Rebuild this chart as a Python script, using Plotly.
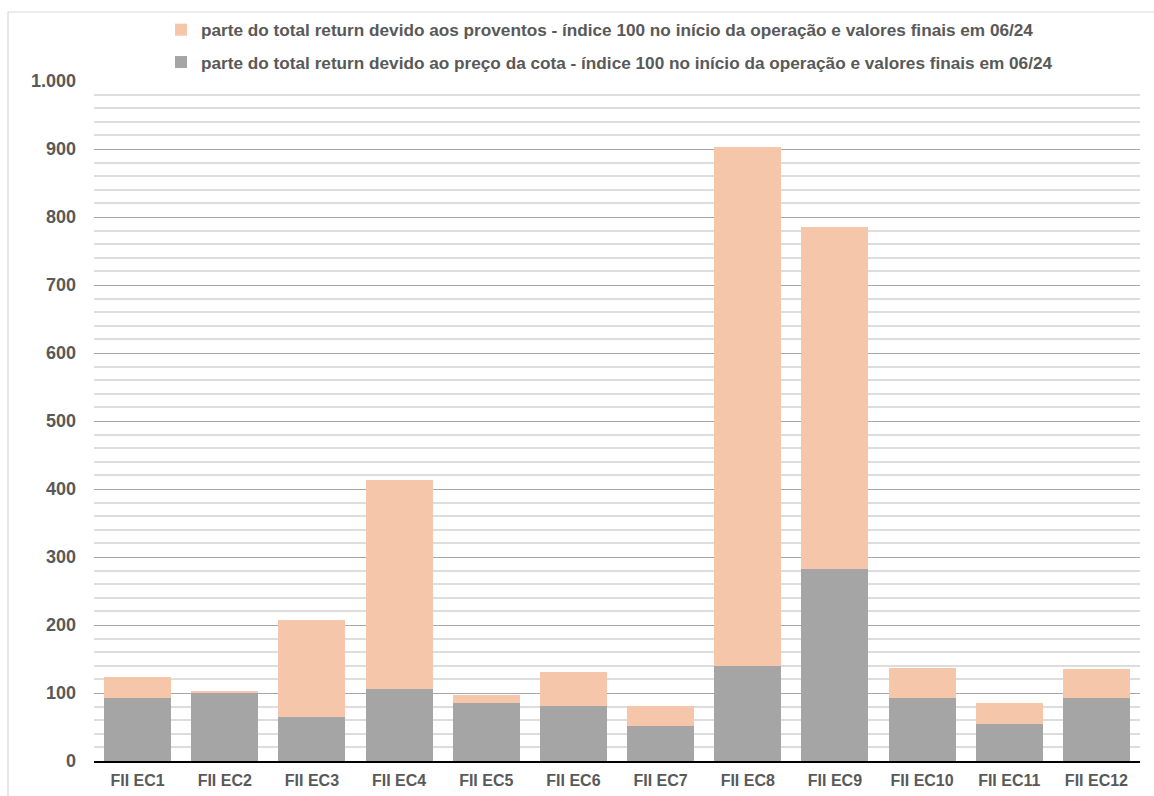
import plotly.graph_objects as go

# Fund names on the category axis
fundos = ["FII EC1", "FII EC2", "FII EC3", "FII EC4", "FII EC5", "FII EC6",
          "FII EC7", "FII EC8", "FII EC9", "FII EC10", "FII EC11", "FII EC12"]

# Part of total return due to quota price (index 100 at start)
parte_preco = [93, 101, 65, 106, 85, 81, 52, 140, 282, 93, 55, 93]

# Part of total return due to distributions
parte_proventos = [30, 1, 142, 307, 12, 50, 29, 763, 503, 44, 30, 42]

nome_preco = ("parte do total return devido ao preço da cota - índice 100 no início "
              "da operação e valores finais em 06/24")
nome_proventos = ("parte do total return devido aos proventos - índice 100 no início "
                  "da operação e valores finais em 06/24")

cinza = "#A5A5A5"
salmao = "#F5C6AA"
texto = "#595959"
fonte = "Liberation Sans, Arial, sans-serif"

# plot area in pixels: x 94..1140, y 81..761
ML, MR, MT, MB = 94, 14, 81, 35
W, H = 1154, 796
pw, ph = W - ML - MR, H - MT - MB

fig = go.Figure()
fig.add_trace(go.Bar(x=fundos, y=parte_preco, name=nome_preco,
                     marker=dict(color=cinza, line=dict(width=0)),
                     legendgroup="preco", legendrank=2))
fig.add_trace(go.Bar(x=fundos, y=parte_proventos, name=nome_proventos,
                     marker=dict(color=salmao, line=dict(width=0)),
                     legendgroup="proventos", legendrank=1))

fig.update_layout(
    width=W, height=H,
    barmode="stack", bargap=0.23,
    plot_bgcolor="white", paper_bgcolor="white",
    separators=",.",
    margin=dict(l=ML, r=MR, t=MT, b=MB, autoexpand=False),
    font=dict(family=fonte, color=texto, size=15),
    legend=dict(orientation="v", traceorder="grouped",
                tracegroupgap=7,
                x=(161 - ML) / pw, y=(H - MB - 12) / ph, xanchor="left", yanchor="top",
                font=dict(family=fonte, size=17.2, color=texto, weight="bold"),
                itemwidth=30, bgcolor="rgba(0,0,0,0)"),
    shapes=[dict(type="rect", xref="paper", yref="paper",
                 x0=(8 - ML) / pw, x1=1.3, y0=-0.3, y1=(H - MB - 12) / ph,
                 line=dict(color="#D9D9D9", width=1.2),
                 fillcolor="rgba(0,0,0,0)", layer="below")],
)

fig.update_yaxes(range=[0, 1000], dtick=100, tickformat=",d",
                 showgrid=True, gridcolor="#A6A6A6", gridwidth=1.3,
                 minor=dict(dtick=20, showgrid=True, gridcolor="#DDDDDD", gridwidth=2),
                 zeroline=False, showline=False, ticks="",
                 tickfont=dict(family=fonte, size=18, color=texto, weight="bold"),
                 ticklabelstandoff=17)
fig.update_xaxes(showgrid=False, showline=True, linecolor="black", linewidth=2,
                 ticks="",
                 tickfont=dict(family=fonte, size=16, color=texto, weight="bold"),
                 ticklabelstandoff=4)

fig.write_html("out.html")
